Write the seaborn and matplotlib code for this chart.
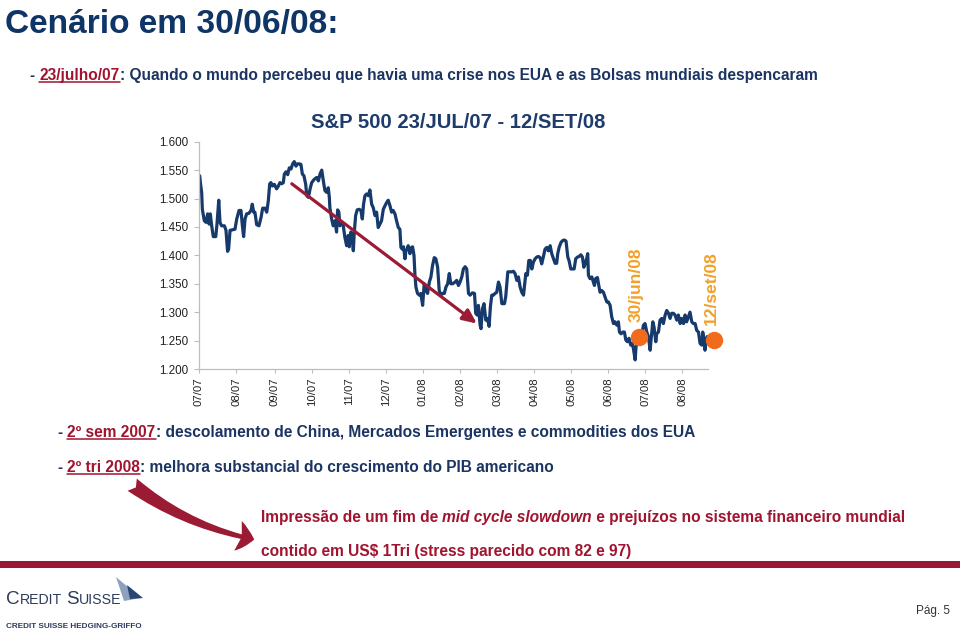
import numpy as np
import pandas as pd
import matplotlib
matplotlib.use("Agg")
import matplotlib.pyplot as plt
import seaborn as sns
from matplotlib import font_manager
from matplotlib.patches import FancyArrowPatch, Polygon, Rectangle
from matplotlib.lines import Line2D

# ---------------- data ----------------
# trading-day index since 23/jul/07 and S&P 500 close
day = [0.4, 0.9, 1.5, 1.9, 3.0, 4.0, 4.9, 5.7, 6.4, 7.2, 8.1, 9.5, 10.2, 11.2, 11.9, 12.8, 14.4, 15.3, 16.2, 16.8,
       17.6, 18.9, 20.4, 21.4, 22.7, 23.8, 24.6, 25.3, 26.1, 27.0, 28.3, 29.5, 30.2, 31.0, 31.7, 32.7, 34.0, 35.2,
       36.1, 37.4, 38.4, 39.3, 40.1, 40.8, 41.6, 42.7, 44.0, 45.0, 45.9, 46.9, 47.8, 48.4, 49.3, 50.3, 51.2, 52.2,
       53.1, 54.0, 55.0, 55.8, 56.9, 57.8, 58.6, 59.5, 60.5, 61.1, 62.0, 63.0, 63.9, 65.4, 66.7, 67.7, 68.6, 69.6,
       70.5,
       71.4, 72.3, 73.3, 73.9, 74.2, 75.2, 76.1, 77.1, 78.0, 78.6, 79.3, 79.9, 80.9, 81.8, 82.7, 83.7, 84.6, 85.2,
       86.1, 86.9, 87.5, 88.0, 88.8, 89.7, 90.9, 91.8, 92.6, 93.3, 94.1, 95.0, 96.0, 96.9, 97.9, 98.8, 99.8, 100.7,
       101.6, 102.6, 103.5, 104.5, 105.4, 106.4, 107.3, 108.3, 109.2, 110.1, 111.1, 112.0, 113.0, 113.9, 114.5,
       115.2, 116.0, 116.8, 117.3, 118.1, 118.6, 119.6, 120.5, 121.1, 121.9, 122.4, 123.0, 123.9, 124.9, 125.8,
       126.8, 127.7, 128.7, 129.6, 130.6, 131.5, 132.4, 133.4, 134.3, 135.3, 136.2, 137.2, 138.1, 139.1, 140.0,
       141.0, 141.9, 142.8, 143.8,
       145.2, 146.1, 147.1, 148.0, 149.0, 149.9, 150.9, 151.8, 152.8, 153.7, 155.0, 156.2, 156.9, 157.7, 158.4,
       159.4, 159.9, 160.7, 161.6, 162.6, 163.5, 164.5, 165.2, 166.0, 166.9, 167.9, 168.8, 169.8, 170.7, 171.7,
       173.2, 173.9, 174.5, 175.1, 176.4, 177.3, 178.3, 179.2, 180.2, 181.1, 182.1, 183.0, 184.0, 184.5, 185.3,
       186.2, 187.0, 187.9, 188.7, 189.6, 190.6, 191.5, 192.5, 193.4, 194.3, 195.3, 196.2, 197.2, 198.1, 199.1,
       200.0, 201.0, 201.9, 202.8, 203.4, 204.2, 205.3, 206.2, 207.2, 208.1, 209.1, 209.8, 210.8, 211.7, 212.7,
       213.6, 214.6, 215.5, 216.5, 217.4, 218.2,
       218.9, 219.8, 220.4, 220.8, 221.7, 222.7, 223.6, 224.2, 224.9, 225.9, 226.5, 227.4, 228.4, 229.3, 230.2,
       231.2, 232.1, 233.1, 234.0, 235.0, 235.9, 236.9, 237.8, 238.4, 239.3, 240.3, 241.2, 242.0, 242.9, 243.8,
       244.8, 245.7, 246.3, 247.3, 247.8, 248.8, 250.1, 251.0, 252.0, 252.9, 253.9, 254.8, 255.8, 256.3, 257.3,
       258.0, 259.0, 259.5, 260.5, 261.4, 262.4, 263.3, 264.3, 265.2, 266.2, 267.1, 268.0, 269.0, 269.9, 270.9,
       271.8, 272.8, 273.7, 274.7, 275.6, 276.5, 277.5, 278.4, 279.4, 280.3, 281.3, 282.2, 283.2, 284.1, 285.1,
       285.6, 286.4, 286.9, 287.5, 288.1]

close = [1540, 1525, 1511, 1481, 1461, 1458, 1473, 1455, 1473, 1452, 1433, 1433, 1455, 1497, 1458, 1452, 1452,
         1444, 1407, 1411, 1444, 1445, 1446, 1464, 1479, 1479, 1452, 1433, 1464, 1473, 1474, 1479, 1490, 1476,
         1476, 1454, 1452, 1467, 1483, 1483, 1476, 1496, 1526, 1528, 1522, 1525, 1517, 1522, 1528, 1526, 1528,
         1543, 1547, 1542, 1554, 1552, 1561, 1565, 1557, 1561, 1561, 1560, 1543, 1540, 1525, 1505, 1502, 1517,
         1528, 1534, 1537, 1531, 1543, 1550, 1531,
         1514, 1511, 1519, 1502, 1484, 1464, 1452, 1461, 1441, 1480, 1476, 1452, 1458, 1452, 1432, 1417, 1435,
         1415, 1441, 1429, 1408, 1438, 1470, 1480, 1481, 1479, 1464, 1490, 1505, 1508, 1505, 1515, 1490, 1484,
         1470, 1476, 1449, 1455, 1461, 1481, 1487, 1493, 1497, 1487, 1476, 1479, 1473, 1461, 1449, 1446, 1414,
         1411, 1415, 1394, 1408, 1411, 1417, 1403, 1414, 1415, 1400, 1368, 1344, 1333, 1330, 1333, 1312, 1350,
         1338, 1333, 1353, 1362, 1382, 1396, 1394, 1379, 1338, 1330, 1333, 1333, 1344, 1350, 1368, 1350, 1350,
         1353, 1356, 1347, 1353, 1362, 1376, 1380, 1376, 1333, 1330, 1334, 1333, 1298, 1295, 1312, 1277, 1271,
         1306, 1315, 1286, 1289, 1275, 1309, 1330, 1330, 1333, 1335, 1353, 1344, 1315, 1315, 1327, 1350, 1371,
         1371, 1371, 1372, 1368, 1356, 1362, 1344, 1335, 1330, 1344, 1368, 1365, 1391, 1391, 1376, 1388, 1394,
         1397, 1398, 1396, 1385, 1398, 1411, 1414, 1408, 1417, 1403, 1394, 1386, 1386, 1403, 1414, 1423, 1426,
         1427, 1425, 1397, 1391, 1376, 1376, 1376, 1394, 1397, 1398, 1401, 1397, 1379,
         1385, 1394, 1403, 1365, 1359, 1362, 1353, 1347, 1359, 1361, 1350, 1335, 1338, 1335, 1327, 1318, 1318,
         1312, 1292, 1280, 1283, 1277, 1283, 1265, 1262, 1265, 1265, 1251, 1248, 1254, 1242, 1245, 1236, 1216,
         1239, 1251, 1257, 1260, 1277, 1280, 1265, 1257, 1233, 1251, 1283, 1274, 1248, 1262, 1265, 1286, 1289,
         1280, 1295, 1303, 1298, 1289, 1298, 1298, 1295, 1286, 1295, 1280, 1289, 1280, 1295, 1283, 1292, 1300,
         1283, 1280, 1280, 1268, 1265, 1245, 1242, 1265, 1251, 1233, 1248, 1257]

tick_days = [0, 21, 43, 64, 85, 106, 127, 148, 169, 190, 211, 232, 253, 274]
tick_labels = ["07/07", "08/07", "09/07", "10/07", "11/07", "12/07", "01/08",
               "02/08", "03/08", "04/08", "05/08", "06/08", "07/08", "08/08"]
y_ticks = [1200, 1250, 1300, 1350, 1400, 1450, 1500, 1550, 1600]

trend_start = (52.6, 1526)   # red trend arrow (day, level)
trend_end = (157.5, 1280)
mark_labels = ["30/jun/08", "12/set/08"]
mark_days = [249.5, 292.0]
mark_values = [1256, 1251]

chart_title = "S&P 500 23/JUL/07 - 12/SET/08"

# ---------------- style ----------------
W, H = 960, 631
NAVY = "#163a6b"
TITLE_C = "#1d3c6c"
HEAD_C = "#0f3566"
TXT_C = "#1b3461"
RED = "#a0142f"
BAND = "#9b1a33"
ORANGE_M = "#f26a1b"
ORANGE_T = "#f3a028"
AXIS_C = "#bdbdbd"

sns.set_theme(style="white")
avail = {f.name for f in font_manager.fontManager.ttflist}
SANS = "Liberation Sans" if "Liberation Sans" in avail else "DejaVu Sans"
NARROW = "Liberation Sans Narrow" if "Liberation Sans Narrow" in avail else SANS
plt.rcParams["font.family"] = [SANS, "DejaVu Sans"]

fig = plt.figure(figsize=(W / 100, H / 100), dpi=100)
fig.patch.set_facecolor("white")

def fx(px):
    return px / W

def fy(py):
    return 1 - py / H

# ---------------- chart ----------------
ax = fig.add_axes([fx(199), fy(369), (708 - 199) / W, (369 - 141.7) / H])
df = pd.DataFrame({"day": day, "close": close})
sns.lineplot(data=df, x="day", y="close", ax=ax, color=NAVY, linewidth=2.3,
             estimator=None, sort=False)
ax.set_xlim(0, 288.6)
ax.set_ylim(1200, 1600)
ax.set_xlabel("")
ax.set_ylabel("")
ax.set_yticks(y_ticks)
ax.set_yticklabels([f"{v/1000:.3f}" for v in y_ticks])
ax.set_xticks(tick_days)
ax.set_xticklabels(tick_labels, rotation=90)
for s in ["top", "right"]:
    ax.spines[s].set_visible(False)
for s in ["left", "bottom"]:
    ax.spines[s].set_color(AXIS_C)
    ax.spines[s].set_linewidth(0.9)
ax.tick_params(axis="y", length=3.5, width=0.8, color=AXIS_C, labelsize=8.4,
               labelcolor="#222222", pad=4, left=True)
ax.tick_params(axis="x", length=3, width=0.8, color=AXIS_C, labelsize=8.2,
               labelcolor="#222222", pad=3, bottom=True)
ax.grid(False)

# trend arrow
ax.annotate("", xy=trend_end, xytext=trend_start,
            arrowprops=dict(arrowstyle="-|>,head_length=0.7,head_width=0.32",
                            color="#9b1b35", lw=2.3, shrinkA=0, shrinkB=0))

# orange markers with rotated labels
for lab, d, v in zip(mark_labels, mark_days, mark_values):
    ax.plot([d], [v], "o", ms=11.5, color=ORANGE_M, clip_on=False, zorder=5)
    ax.annotate(lab, xy=(d, v), xytext=(-2, 11), textcoords="offset points",
                rotation=90, ha="center", va="bottom", color=ORANGE_T,
                fontsize=12.5, fontweight="bold", annotation_clip=False)

fig.text(fx(458), fy(128), chart_title, ha="center", va="baseline",
         fontsize=14.6, fontweight="bold", color=TITLE_C)

# ---------------- slide text ----------------
renderer = fig.canvas.get_renderer()

def text_width(s, **kw):
    t1 = fig.text(0, 0, "|" + s + "|", **kw)
    w1 = t1.get_window_extent(renderer).width
    t1.remove()
    t2 = fig.text(0, 0, "||", **kw)
    w2 = t2.get_window_extent(renderer).width
    t2.remove()
    return w1 - w2

def rich_line(x0, x1, base_y, parts, size, family, weight="bold"):
    def kw_for(p, sz):
        return dict(fontsize=sz, family=family, weight=weight,
                    style="italic" if p[2] else "normal")
    tot = sum(text_width(p[0], **kw_for(p, size)) for p in parts)
    sz = size * (x1 - x0) / tot
    x = x0
    for p in parts:
        txt, col, it, ul = p
        kw = kw_for(p, sz)
        w = text_width(txt, **kw)
        fig.text(fx(x), fy(base_y), txt, color=col, ha="left", va="baseline", **kw)
        if ul:
            fig.add_artist(Line2D([fx(x), fx(x + w)], [fy(base_y + 2.2)] * 2,
                                  color=col, lw=1.1))
        x += w
    return sz

rich_line(5, 338, 33, [("Cenário em 30/06/08:", HEAD_C, False, False)], 26, NARROW)
rich_line(30, 816, 80, [("- ", TXT_C, False, False), ("23/julho/07", RED, False, True),
                        (": Quando o mundo percebeu que havia uma crise nos EUA e as Bolsas mundiais despencaram",
                         TXT_C, False, False)], 12, NARROW)
rich_line(58, 692, 437, [("- ", TXT_C, False, False), ("2º sem 2007", RED, False, True),
                         (": descolamento de China, Mercados Emergentes e commodities dos EUA",
                          TXT_C, False, False)], 12, NARROW)
rich_line(58, 552, 472, [("- ", TXT_C, False, False), ("2º tri 2008", RED, False, True),
                         (": melhora substancial do crescimento do PIB americano",
                          TXT_C, False, False)], 12, NARROW)
rich_line(261, 903, 522, [("Impressão de um fim de ", RED, False, False),
                          ("mid cycle slowdown", RED, True, False),
                          (" e prejuízos no sistema financeiro mundial", RED, False, False)], 12, NARROW)
rich_line(261, 630, 556, [("contido em US$ 1Tri (stress parecido com 82 e 97)", RED, False, False)],
          12, NARROW)

# curved swoosh arrow
sw = FancyArrowPatch(posA=(fx(130), fy(483)), posB=(fx(257), fy(540)),
                     transform=fig.transFigure,
                     connectionstyle="arc3,rad=0.12",
                     arrowstyle="fancy,head_length=0.6,head_width=1.1,tail_width=0.55",
                     mutation_scale=20, color="#9b1b35", lw=0)
fig.add_artist(sw)

# bottom band
fig.add_artist(Rectangle((0, fy(568)), 1, (568 - 561) / H, transform=fig.transFigure,
                         color=BAND, lw=0))

# Credit Suisse logo text (small caps)
LOGO_C = "#2e3b5c"
logo_parts = [("C", 11.5), ("REDIT", 8.6), (" ", 8.6), ("S", 11.5), ("UISSE", 8.6)]
tot = sum(text_width(t, fontsize=s, family=SANS) for t, s in logo_parts)
k = (120 - 6) / tot
x = 6
for t, s in logo_parts:
    fig.text(fx(x), fy(604), t, fontsize=s * k, family=SANS, color=LOGO_C,
             ha="left", va="baseline")
    x += text_width(t, fontsize=s * k, family=SANS)

fig.add_artist(Polygon([(fx(116), fy(577)), (fx(141), fy(598)), (fx(124), fy(601))],
                       closed=True, transform=fig.transFigure, color="#8ea2c0", lw=0))
fig.add_artist(Polygon([(fx(127), fy(585)), (fx(143), fy(598)), (fx(130), fy(599))],
                       closed=True, transform=fig.transFigure, color="#2c4672", lw=0))

rich_line(6, 142, 628, [("CREDIT SUISSE HEDGING-GRIFFO", LOGO_C, False, False)], 6.5, SANS)
fig.text(fx(916), fy(614), "Pág. 5", fontsize=8.5, color="#333333", ha="left", va="baseline",
         family=SANS)

fig.savefig("out.png", dpi=100, facecolor="white")
